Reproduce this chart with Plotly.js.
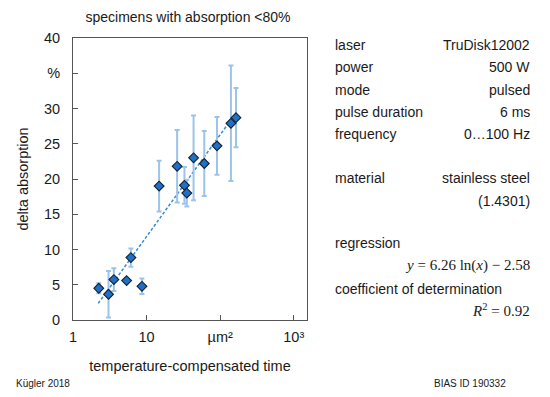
<!DOCTYPE html>
<html>
<head>
<meta charset="utf-8">
<script src="https://cdn.plot.ly/plotly-3.0.1.min.js"></script>
<style>html,body{margin:0;padding:0;background:#fff;}#chart{width:550px;height:397px;}</style>
</head>
<body>
<div id="chart"></div>
<script>
// Data
const timeX = [2.24, 3.04, 3.59, 5.35, 6.12, 8.65, 14.8, 26.0, 32.7, 35.2, 43.5, 60.8, 90.5, 140, 164];
const deltaAbs = [4.5, 3.65, 5.73, 5.59, 8.85, 4.78, 19.0, 21.8, 19.1, 18.0, 23.0, 22.2, 24.7, 27.9, 28.7];
const errAbs = [0.7, 3.3, 1.6, 0.3, 1.3, 1.1, 3.6, 5.15, 2.6, 1.9, 6.0, 4.6, 4.1, 8.2, 4.2];
const regX = [2.2, 162];
const regY = [2.35, 29.3];
const xTickVals = [1, 10, 100, 1000];
const xTickText = ['1', '10', 'µm²', '10³'];
const yTickVals = [0, 5, 10, 15, 20, 25, 30, 35, 40];
const yTickText = ['0', '5', '10', '15', '20', '25', '30', '%', '40'];
const infoLabels = ['laser', 'power', 'mode', 'pulse duration', 'frequency', 'material'];
const infoValues = ['TruDisk12002', '500 W', 'pulsed', '6 ms', '0…100 Hz', 'stainless steel'];

const L = 73, R = 307, T = 38, B = 320, W = 550, H = 397;
const px = x => (x - L) / (R - L);
const py = y => (B - y) / (B - T);
const font = 'Liberation Sans, Arial, sans-serif';
const serif = 'Liberation Serif, DejaVu Serif, serif';

const traces = [
  {
    x: regX, y: regY, type: 'scatter', mode: 'lines',
    line: {color: '#3a8ad6', width: 1.5, dash: '3px,2px'},
    hoverinfo: 'skip', showlegend: false
  },
  {
    x: timeX, y: deltaAbs, type: 'scatter', mode: 'markers',
    error_y: {type: 'data', array: errAbs, visible: true, color: '#9cc4ea', thickness: 2, width: 2.5},
    marker: {symbol: 'diamond', size: 7.5, color: '#1f70c8', line: {color: '#14202e', width: 1.1}},
    showlegend: false
  }
];

const ann = [];
const rows = [45, 67.3, 89.6, 111.9, 134.2, 178.3];
infoLabels.forEach((t, i) => {
  ann.push({text: t, x: px(333), y: py(rows[i]), xref: 'paper', yref: 'paper', xanchor: 'left', yanchor: 'middle', showarrow: false, font: {family: font, size: 14, color: '#1a1a1a'}});
  ann.push({text: infoValues[i], x: px(532), y: py(rows[i]), xref: 'paper', yref: 'paper', xanchor: 'right', yanchor: 'middle', showarrow: false, font: {family: font, size: 14, color: '#1a1a1a'}});
});
ann.push({text: '(1.4301)', x: px(532), y: py(201), xref: 'paper', yref: 'paper', xanchor: 'right', yanchor: 'middle', showarrow: false, font: {family: font, size: 14, color: '#1a1a1a'}});
ann.push({text: 'regression', x: px(333), y: py(243), xref: 'paper', yref: 'paper', xanchor: 'left', yanchor: 'middle', showarrow: false, font: {family: font, size: 14, color: '#1a1a1a'}});
ann.push({text: '<i>y</i> = 6.26 ln(<i>x</i>) − 2.58', x: px(532), y: py(265.5), xref: 'paper', yref: 'paper', xanchor: 'right', yanchor: 'middle', showarrow: false, font: {family: serif, size: 15, color: '#1a1a1a'}});
ann.push({text: 'coefficient of determination', x: px(333), y: py(288.5), xref: 'paper', yref: 'paper', xanchor: 'left', yanchor: 'middle', showarrow: false, font: {family: font, size: 14, color: '#1a1a1a'}});
ann.push({text: '<i>R</i><sup>2</sup> = 0.92', x: px(532), y: py(310), xref: 'paper', yref: 'paper', xanchor: 'right', yanchor: 'middle', showarrow: false, font: {family: serif, size: 15, color: '#1a1a1a'}});
ann.push({text: 'Kügler 2018', x: px(14), y: py(383), xref: 'paper', yref: 'paper', xanchor: 'left', yanchor: 'middle', showarrow: false, font: {family: font, size: 10, color: '#1a1a1a'}});
ann.push({text: 'BIAS ID 190332', x: px(508), y: py(383), xref: 'paper', yref: 'paper', xanchor: 'right', yanchor: 'middle', showarrow: false, font: {family: font, size: 10, color: '#1a1a1a'}});

const layout = {
  width: W, height: H,
  margin: {l: L, r: W - R, t: T, b: H - B, pad: 0},
  paper_bgcolor: '#fff', plot_bgcolor: '#fff',
  font: {family: font, size: 14, color: '#1a1a1a'},
  title: {text: 'specimens with absorption <80%', x: px(188), xref: 'paper', xanchor: 'center', y: 1 - 17 / H, yanchor: 'middle', font: {family: font, size: 14, color: '#1a1a1a'}},
  xaxis: {
    type: 'log', range: [0, 3.18], tickvals: xTickVals, ticktext: xTickText,
    ticks: 'inside', ticklen: 5, tickcolor: '#555', tickwidth: 1,
    showline: true, linecolor: '#555', linewidth: 1, mirror: true,
    showgrid: false, zeroline: false, ticklabelstandoff: 4,
    tickfont: {family: font, size: 14.5, color: '#1a1a1a'},
    title: {text: 'temperature-compensated time', font: {family: font, size: 14.5, color: '#1a1a1a'}, standoff: 16}
  },
  yaxis: {
    range: [0, 40], tickvals: yTickVals, ticktext: yTickText,
    ticks: 'inside', ticklen: 5, tickcolor: '#555', tickwidth: 1,
    showline: true, linecolor: '#555', linewidth: 1, mirror: true,
    showgrid: false, zeroline: false, ticklabelstandoff: 9,
    tickfont: {family: font, size: 14.5, color: '#1a1a1a'},
    title: {text: 'delta absorption', font: {family: font, size: 14.5, color: '#1a1a1a'}, standoff: 11}
  },
  annotations: ann,
  showlegend: false
};

Plotly.newPlot('chart', traces, layout, {displayModeBar: false, staticPlot: true});
</script>
</body>
</html>
